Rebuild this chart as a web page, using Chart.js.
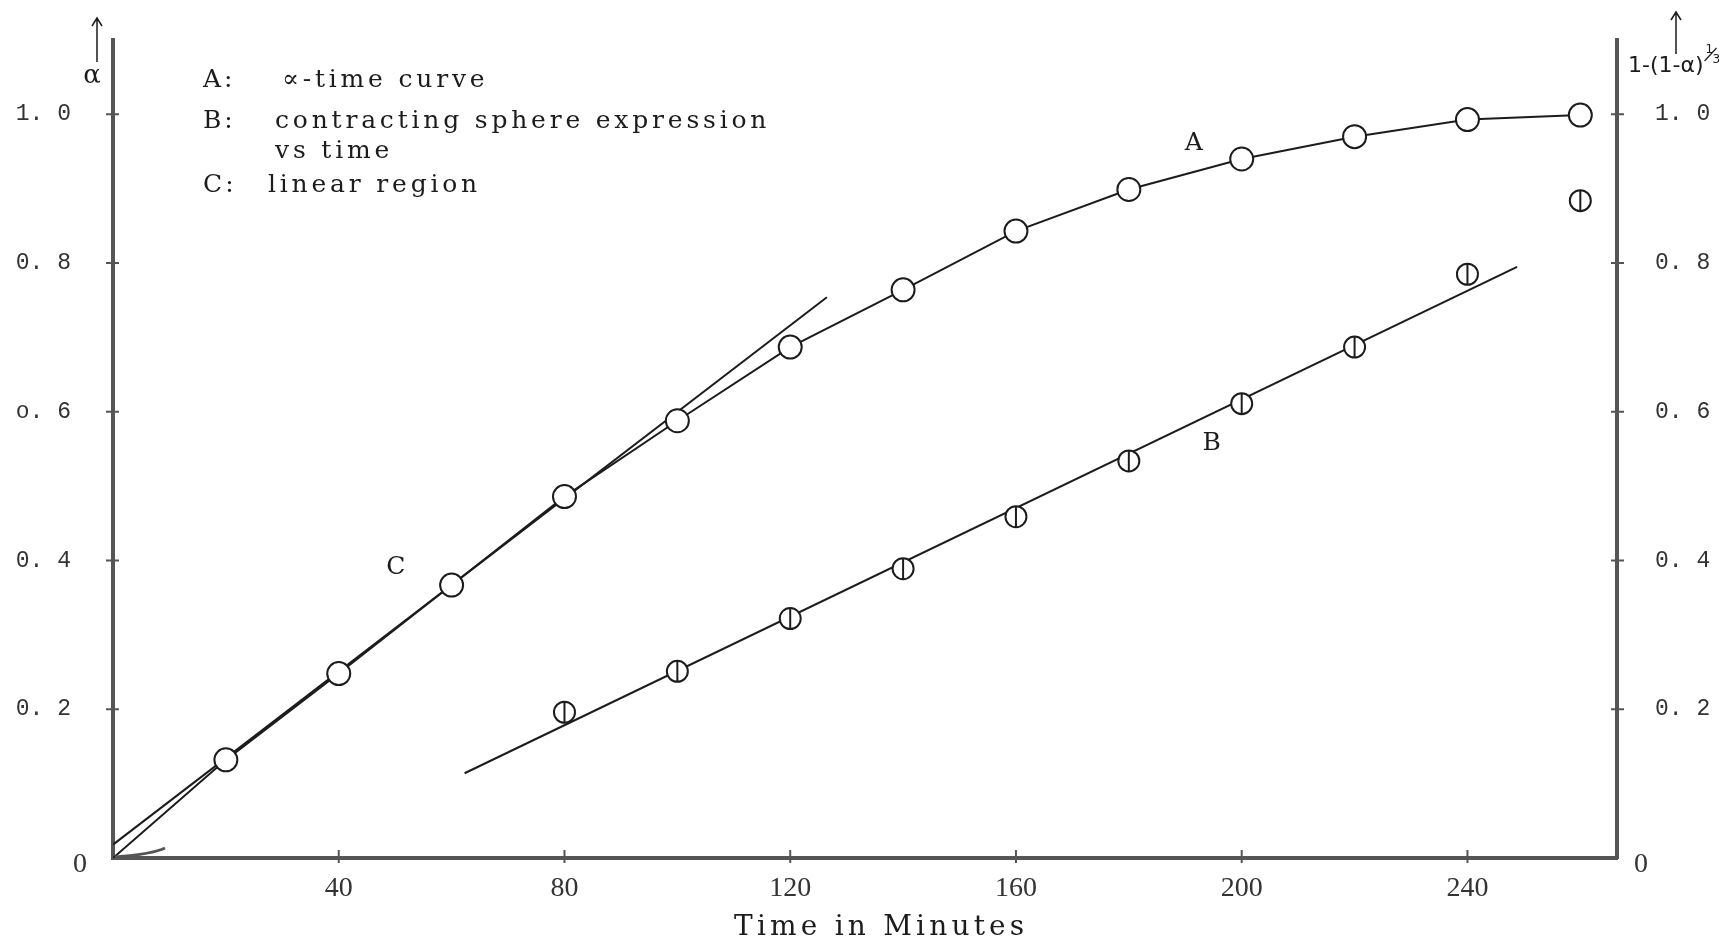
<!DOCTYPE html>
<html>
<head>
<meta charset="utf-8">
<title>alpha-time curve</title>
<script src="https://cdn.jsdelivr.net/npm/chart.js@4.4.1/dist/chart.umd.min.js"></script>
<style>
  html, body { margin: 0; padding: 0; background: #fff; }
  canvas { display: block; }
</style>
</head>
<body>
<canvas id="chart" width="1736" height="944"></canvas>
<script>
// A: alpha vs time (left axis)
const timeA = [0, 20, 40, 60, 80, 100, 120, 140, 160, 180, 200, 220, 240, 260];
const alphaA = [0, 0.132, 0.248, 0.367, 0.486, 0.588, 0.687, 0.764, 0.843, 0.899, 0.940, 0.970, 0.993, 0.999];

// B: contracting sphere expression 1-(1-alpha)^1/3 vs time (right axis)
const timeB = [80, 100, 120, 140, 160, 180, 200, 220, 240, 260];
const sphereB = [0.196, 0.251, 0.322, 0.389, 0.459, 0.534, 0.611, 0.687, 0.785, 0.884];

// straight lines drawn on the graph: B fit and C (linear region)
const fitBTime = [62.3, 248.8];
const fitBValue = [0.114, 0.795];
const fitCTime = [0, 126.5];
const fitCValue = [0.018, 0.754];

const xTicks = [40, 80, 120, 160, 200, 240];
const yTicks = [0, 0.2, 0.4, 0.6, 0.8, 1.0];
const leftTickLabels = ['0', '0. 2', '0. 4', 'o. 6', '0. 8', '1. 0'];
const rightTickLabels = ['0', '0. 2', '0. 4', '0. 6', '0. 8', '1. 0'];

const ink = '#1c1c1c';
const axisInk = '#555';

const pts = (xs, ys) => xs.map((v, i) => ({ x: v, y: ys[i] }));

// draw text with extra spacing between letters (typewriter look)
function spaced(ctx, text, x, y, gap) {
  for (const ch of text) {
    ctx.fillText(ch, x, y);
    x += ctx.measureText(ch).width + gap;
  }
}

function arrowUp(ctx, x, yTop, yBottom) {
  ctx.beginPath();
  ctx.moveTo(x, yBottom);
  ctx.lineTo(x, yTop);
  ctx.moveTo(x - 5, yTop + 8);
  ctx.lineTo(x, yTop);
  ctx.lineTo(x + 5, yTop + 8);
  ctx.stroke();
}

const paperText = {
  id: 'paperText',
  afterDraw(chart) {
    const { ctx, scales: { x, y, y2 } } = chart;
    ctx.save();
    ctx.strokeStyle = axisInk;
    ctx.lineWidth = 2;

    // ticks crossing the axes
    yTicks.slice(1).forEach(v => {
      const py = y.getPixelForValue(v);
      ctx.beginPath();
      ctx.moveTo(x.left - 7, py); ctx.lineTo(x.left + 6, py);
      ctx.moveTo(x.right - 6, py); ctx.lineTo(x.right + 7, py);
      ctx.stroke();
    });
    xTicks.forEach(v => {
      const px = x.getPixelForValue(v);
      ctx.beginPath();
      ctx.moveTo(px, y.bottom - 8); ctx.lineTo(px, y.bottom + 5);
      ctx.stroke();
    });

    // small pen hook at the origin
    ctx.lineWidth = 3;
    ctx.beginPath();
    ctx.moveTo(x.left + 2, y.bottom - 1);
    ctx.quadraticCurveTo(x.left + 40, y.bottom - 4, x.left + 52, y.bottom - 10);
    ctx.stroke();

    ctx.fillStyle = ink;
    ctx.strokeStyle = ink;
    ctx.lineWidth = 1.5;
    ctx.textBaseline = 'middle';
    ctx.textAlign = 'left';

    // key in the top-left corner
    ctx.font = '25px "DejaVu Serif"';
    spaced(ctx, 'A:', 203, 80, 3);
    spaced(ctx, '\u221D-time curve', 282, 80, 3.8);
    spaced(ctx, 'B:', 203, 121, 3);
    spaced(ctx, 'contracting sphere expression', 275, 121, 3.8);
    spaced(ctx, 'vs time', 275, 151, 3.8);
    spaced(ctx, 'C:', 203, 185, 3);
    spaced(ctx, 'linear region', 268, 185, 3.8);

    // curve letters
    ctx.textAlign = 'center';
    ctx.fillText('A', x.getPixelForValue(191.5), y.getPixelForValue(0.961));
    ctx.fillText('B', x.getPixelForValue(194.7), y2.getPixelForValue(0.557));
    ctx.fillText('C', x.getPixelForValue(50.1), y.getPixelForValue(0.39));

    // zero labels sit closer to the corners
    ctx.font = '28px "Liberation Serif"';
    ctx.fillStyle = '#333';
    ctx.fillText(leftTickLabels[0], 80, 865);
    ctx.fillText(rightTickLabels[0], 1641, 865);
    ctx.fillStyle = ink;

    // axis names with arrows
    ctx.font = '26px "DejaVu Serif"';
    ctx.fillText('\u03B1', 92, 76);
    arrowUp(ctx, 97, 18, 62);

    ctx.font = '22px "DejaVu Sans"';
    ctx.textAlign = 'left';
    const rightName = '1-(1-\u03B1)';
    ctx.fillText(rightName, 1628, 66);
    const sx = 1628 + ctx.measureText(rightName).width + 2;
    ctx.font = '12px "DejaVu Sans"';
    ctx.lineWidth = 1.2;
    ctx.fillText('1', sx, 50);
    ctx.fillText('3', sx + 7, 60);
    ctx.beginPath();
    ctx.moveTo(sx - 1, 61); ctx.lineTo(sx + 11, 48);
    ctx.stroke();
    ctx.lineWidth = 1.5;
    arrowUp(ctx, 1676, 12, 54);

    // axis title
    ctx.font = '28px "DejaVu Serif"';
    spaced(ctx, 'Time in Minutes', 734, 928, 4.2);

    ctx.restore();
  }
};

const yAxisBase = {
  type: 'linear',
  min: 0,
  max: 1.1,
  afterBuildTicks: axis => { axis.ticks = yTicks.map(v => ({ value: v })); },
  grid: { display: true, drawOnChartArea: false, drawTicks: false },
  border: { display: true, color: axisInk, width: 4 }
};

new Chart(document.getElementById('chart'), {
  type: 'scatter',
  data: {
    datasets: [
      {
        label: 'B marker bar',
        data: pts(timeB, sphereB),
        yAxisID: 'y2',
        showLine: false,
        pointStyle: 'line',
        rotation: 90,
        pointRadius: 10.5,
        borderColor: ink,
        borderWidth: 2,
        order: 0
      },
      {
        label: 'B',
        data: pts(timeB, sphereB),
        yAxisID: 'y2',
        showLine: false,
        pointStyle: 'circle',
        pointRadius: 10.5,
        pointBackgroundColor: '#fff',
        pointBorderColor: ink,
        pointBorderWidth: 2,
        order: 1
      },
      {
        label: 'A',
        data: pts(timeA, alphaA),
        yAxisID: 'y',
        showLine: true,
        tension: 0,
        borderColor: ink,
        borderWidth: 2,
        pointRadius: timeA.map(t => (t === 0 ? 0 : 11.5)),
        pointBackgroundColor: '#fff',
        pointBorderColor: ink,
        pointBorderWidth: 2,
        order: 2
      },
      {
        label: 'B fit',
        data: pts(fitBTime, fitBValue),
        yAxisID: 'y2',
        showLine: true,
        borderColor: ink,
        borderWidth: 2,
        pointRadius: 0,
        order: 3
      },
      {
        label: 'C',
        data: pts(fitCTime, fitCValue),
        yAxisID: 'y',
        showLine: true,
        borderColor: ink,
        borderWidth: 2,
        pointRadius: 0,
        order: 3
      }
    ]
  },
  options: {
    responsive: false,
    animation: false,
    layout: { padding: { top: 40, left: 0, right: 0, bottom: 0 } },
    plugins: {
      legend: { display: false },
      tooltip: { enabled: false }
    },
    scales: {
      x: {
        type: 'linear',
        min: 0,
        max: 266.5,
        afterBuildTicks: axis => { axis.ticks = xTicks.map(v => ({ value: v })); },
        afterFit: axis => { axis.height = 86; },
        grid: { display: true, drawOnChartArea: false, drawTicks: false },
        border: { display: true, color: axisInk, width: 4 },
        ticks: {
          padding: 14,
          maxRotation: 0,
          color: '#333',
          font: { family: 'Liberation Serif', size: 28 }
        }
      },
      y: {
        ...yAxisBase,
        position: 'left',
        afterFit: axis => { axis.width = 113; axis.paddingTop = 0; axis.paddingBottom = 0; },
        ticks: {
          padding: 42,
          color: '#333',
          font: { family: 'Liberation Mono', size: 23 },
          callback: (value, index) => (index === 0 ? '' : leftTickLabels[index])
        }
      },
      y2: {
        ...yAxisBase,
        position: 'right',
        afterFit: axis => { axis.width = 119; axis.paddingTop = 0; axis.paddingBottom = 0; },
        ticks: {
          padding: 38,
          color: '#333',
          font: { family: 'Liberation Mono', size: 23 },
          callback: (value, index) => (index === 0 ? '' : rightTickLabels[index])
        }
      }
    }
  },
  plugins: [paperText]
});
</script>
</body>
</html>
